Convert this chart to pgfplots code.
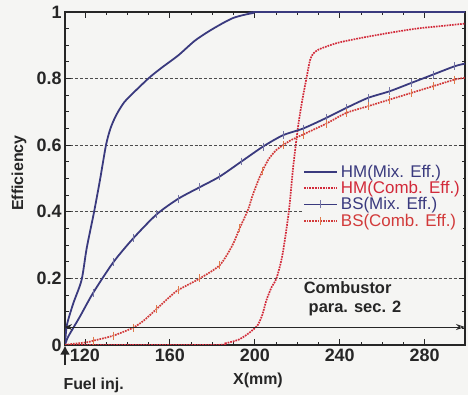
\documentclass[border=0pt]{standalone}
\usepackage{pgfplots}
\pgfplotsset{compat=1.18}
\usepackage{fontspec}
\setmainfont{Liberation Sans}
\usetikzlibrary{arrows.meta,backgrounds}
\definecolor{hmblue}{HTML}{3A3A7E}
\definecolor{hmred}{HTML}{D22A3A}
\definecolor{bsred}{HTML}{D23A3A}
\definecolor{bsmark}{HTML}{E07A4A}
\definecolor{bgc}{HTML}{F5F5F3}
\begin{document}
\begin{tikzpicture}
\begin{axis}[name=ax, scale only axis, width=400bp, height=333bp,
 clip mode=individual,
 xmin=110.6, xmax=299, ymin=0, ymax=1,
 xtick={120,160,200,240,280}, xticklabels={120,160,200,240,280},
 minor x tick num=3,
 ytick={0,0.2,0.4,0.6,0.8,1}, yticklabels={0,0.2,0.4,0.6,0.8,1},
 minor y tick num=3,
 tick align=inside, major tick length=6bp, minor tick length=3.5bp,
 axis line style={line width=1.2pt, black!85},
 every tick/.style={black!85, line width=0.9pt},
 ymajorgrids, grid style={densely dashed, black!70, line width=0.8pt},
 tick label style={font=\fontsize{18}{20}\selectfont\bfseries, black!85},
 /pgf/number format/assume math mode=true,
 legend cell align=left,
 legend style={at={(rel axis cs:0.5925,0.55)}, anchor=north west, draw=none, fill=bgc,
   font=\fontsize{17}{18}\selectfont, inner xsep=1pt, inner ysep=1pt,
   row sep=-1.5pt, /tikz/every odd column/.append style={column sep=1pt}},
]
% HM mixing efficiency
\addplot[hmblue, line width=1.8pt, smooth, tension=0.45, forget plot] coordinates {
(110.6,0) (111.5,0.06) (114.5,0.125) (118.4,0.195) (120.8,0.29) (124.3,0.4) (127.2,0.5) (129.9,0.6) (132,0.65) (134.3,0.685) (136.7,0.712) (139.6,0.737) (149.8,0.8) (156,0.832) (164,0.87) (172,0.915) (180.4,0.95) (189.8,0.982) (199.2,0.997) (206,1.0) (299,1.0)};
\addlegendimage{legend image code/.code={\draw[hmblue,line width=1.8pt] (0bp,0bp)--(33bp,0bp);}}
\addlegendentry{\textcolor{hmblue}{HM(Mix. Eff.)}}
% HM combustion efficiency
\addplot[hmred, line width=1.7pt, densely dotted, smooth, tension=0.45, forget plot] coordinates {
(110.6,0.0) (180,0.0) (186,0.005) (192,0.015) (196,0.03) (199,0.045) (201.4,0.06) (203.5,0.09) (205.5,0.135) (208,0.175) (210.2,0.2) (213,0.27) (216,0.4) (218,0.53) (220.4,0.657) (222.5,0.74) (224.3,0.8) (226,0.855) (227.5,0.875) (230,0.887) (234,0.897) (240,0.909) (250.8,0.923) (263,0.937) (276,0.95) (288,0.958) (299,0.965)};
\addlegendimage{legend image code/.code={\draw[hmred,line width=1.7pt,densely dotted] (0bp,0bp)--(33bp,0bp);}}
\addlegendentry{\textcolor{hmred}{HM(Comb. Eff.)}}
% BS mixing efficiency
\addplot[hmblue, line width=1.8pt, smooth, tension=0.45, forget plot] coordinates {
(110.6,0) (112.1,0.025) (117.6,0.085) (123.8,0.156) (133.3,0.248) (142.7,0.32) (153.7,0.392) (163.9,0.439) (174.1,0.474) (183.5,0.506) (193.7,0.551) (203.9,0.596) (213.3,0.63) (222.7,0.65) (233.7,0.682) (243.1,0.712) (253.3,0.742) (263.5,0.762) (273.7,0.787) (283.9,0.812) (294.1,0.837) (299,0.845)};
\addplot[only marks, mark=|, mark size=4pt, mark options={hmblue!70, line width=0.8pt}, forget plot] coordinates {
(123.8,0.156) (133.3,0.248) (142.7,0.32) (153.7,0.392) (163.9,0.439) (174.1,0.474) (183.5,0.506) (193.7,0.551) (203.9,0.596) (213.3,0.63) (222.7,0.65) (233.7,0.682) (243.1,0.712) (253.3,0.742) (263.5,0.762) (273.7,0.787) (283.9,0.812) (294.1,0.837)};
\addlegendimage{legend image code/.code={\draw[hmblue,line width=1.8pt] (0bp,0bp)--(33bp,0bp); \draw[hmblue!70,line width=0.8pt] (16.5bp,-4pt)--(16.5bp,4pt);}}
\addlegendentry{\textcolor{hmblue}{BS(Mix. Eff.)}}
% BS combustion efficiency
\addplot[bsred, line width=1.7pt, densely dotted, smooth, tension=0.45, forget plot] coordinates {
(110.6,0) (115,0.004) (120.8,0.008) (124,0.013) (133.3,0.028) (142.7,0.052) (148,0.075) (153.7,0.108) (160,0.145) (163.9,0.165) (174.1,0.2) (183.5,0.24) (189.5,0.3) (192.9,0.351) (196.8,0.406) (199,0.45) (202.4,0.506) (206.3,0.556) (210.2,0.586) (213.3,0.6) (217,0.615) (222.7,0.632) (233.7,0.665) (243.1,0.697) (253.3,0.717) (263.5,0.737) (273.7,0.757) (283.9,0.777) (294.1,0.797) (299,0.802)};
\addplot[only marks, mark=|, mark size=4pt, mark options={bsmark, line width=0.8pt}, forget plot] coordinates {
(124,0.013) (133.3,0.028) (142.7,0.052) (153.7,0.108) (163.9,0.165) (174.1,0.2) (183.5,0.24) (192.9,0.351) (203.5,0.522) (213.3,0.6) (222.7,0.632) (233.7,0.665) (243.1,0.697) (253.3,0.717) (263.5,0.737) (273.7,0.757) (283.9,0.777) (294.1,0.797)};
\addlegendimage{legend image code/.code={\draw[bsred,line width=1.7pt,densely dotted] (0bp,0bp)--(33bp,0bp); \draw[bsmark,line width=0.8pt] (16.5bp,-4pt)--(16.5bp,4pt);}}
\addlegendentry{\textcolor{bsred}{BS(Comb. Eff.)}}
% annotations
\draw[black!85, line width=0.9pt, {Stealth[length=7bp,width=6bp]}-{Stealth[length=9bp,width=6bp,open]}] (axis cs:110.6,0.054) -- (axis cs:299,0.054);
\node[font=\fontsize{16.5}{18}\selectfont\bfseries, black!85] at (axis cs:243.7,0.171) {Combustor};
\node[font=\fontsize{16.5}{18}\selectfont\bfseries, black!85] at (axis cs:247.2,0.111) {para. sec. 2};
\node[font=\fontsize{16}{18}\selectfont\bfseries, black!85] at ([yshift=-35bp]rel axis cs:0.4825,0) {X(mm)};
\node[font=\fontsize{16}{18}\selectfont\bfseries, black!85, rotate=90] at ([xshift=-46bp]rel axis cs:0,0.516) {Efficiency};
\node[font=\fontsize{16}{18}\selectfont\bfseries, black!85, anchor=west] at ([xshift=-5bp,yshift=-40bp]rel axis cs:0,0) {Fuel inj.};
\draw[black!85, line width=2.4pt, -{Latex[length=9bp,width=10bp]}] ([yshift=-20bp]rel axis cs:0,0) -- ([yshift=-0.5bp]rel axis cs:0,0);
\end{axis}
\pgfresetboundingbox
\path[use as bounding box] ([shift={(-65bp,-50bp)}]ax.south west) rectangle ([shift={(3bp,12bp)}]ax.north east);
\begin{scope}[on background layer]
\fill[bgc] ([shift={(-65bp,-50bp)}]ax.south west) rectangle ([shift={(3bp,12bp)}]ax.north east);
\end{scope}
\end{tikzpicture}
\end{document}
